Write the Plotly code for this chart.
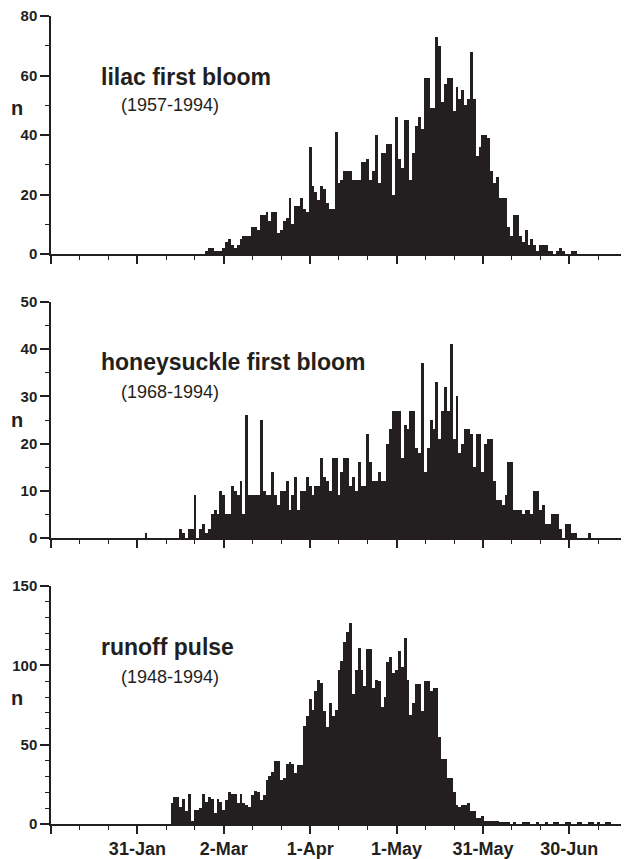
import plotly.graph_objects as go
from plotly.subplots import make_subplots

# ---------------- data (day-of-year counts) ----------------
N_DAYS = 199
days = list(range(1, N_DAYS + 1))

lilac_start = 55
lilac_vals = [1, 2, 2, 1, 1, 1, 2, 4, 5, 3, 2, 3, 5, 6, 6, 6, 9, 9, 8, 13,
              13, 14, 11, 14, 14, 7, 8, 11, 12, 19, 10, 16, 16, 19, 15, 14, 36, 23, 21, 18,
              23, 22, 17, 15, 15, 41, 24, 25, 28, 28, 28, 25, 25, 25, 31, 31, 32, 25, 28, 40,
              24, 34, 34, 37, 37, 20, 46, 32, 29, 45, 45, 25, 34, 43, 46, 42, 59, 59, 49, 49,
              73, 70, 51, 57, 59, 59, 48, 56, 52, 55, 50, 52, 68, 52, 33, 36, 40, 40, 39, 28,
              24, 26, 19, 19, 19, 9, 6, 13, 13, 6, 4, 8, 3, 5, 3, 1, 3, 3, 3, 1,
              1, 0, 1, 2, 1, 0, 0, 1, 1]

honey_start = 34
honey_vals = [1, 0, 0, 0, 0, 0, 0, 0, 0, 0, 0, 0, 2, 1, 0, 2, 2, 9, 0, 2,
              3, 1, 2, 5, 6, 5, 10, 9, 5, 5, 11, 10, 9, 12, 5, 26, 9, 9, 9, 9,
              25, 10, 9, 9, 14, 9, 7, 10, 10, 12, 6, 9, 13, 6, 10, 10, 13, 11, 9, 11,
              11, 17, 13, 12, 10, 17, 17, 9, 14, 17, 17, 11, 13, 10, 16, 11, 11, 22, 16, 12,
              12, 14, 12, 12, 20, 23, 27, 27, 27, 17, 24, 23, 27, 27, 19, 18, 37, 14, 19, 25,
              23, 33, 21, 27, 32, 27, 41, 21, 30, 18, 20, 23, 23, 22, 15, 22, 22, 14, 20, 21,
              21, 12, 8, 8, 7, 9, 16, 16, 6, 6, 6, 5, 6, 6, 5, 10, 10, 6, 7, 3,
              3, 5, 5, 5, 2, 0, 3, 3, 1, 1, 0, 0, 0, 0, 1]

runoff_start = 43
runoff_vals = [13, 17, 17, 11, 16, 8, 19, 2, 9, 9, 10, 19, 14, 17, 16, 7, 16, 14, 9, 15,
               20, 19, 19, 13, 19, 13, 12, 11, 18, 21, 20, 15, 18, 28, 30, 33, 40, 40, 28, 29,
               38, 39, 38, 32, 37, 37, 62, 68, 79, 72, 84, 91, 89, 71, 61, 76, 68, 72, 97, 103,
               115, 121, 127, 82, 97, 111, 97, 87, 110, 110, 86, 91, 90, 74, 80, 102, 105, 95, 97, 109,
               99, 117, 91, 69, 76, 88, 88, 71, 90, 90, 84, 86, 86, 55, 41, 41, 29, 29, 20, 12,
               11, 12, 12, 13, 8, 8, 4, 4, 5, 2, 2, 2, 2, 2, 1, 1, 1, 1, 0, 1,
               0, 0, 1, 1, 1, 0, 0, 1, 0, 0, 1, 0, 0, 1, 1, 0, 0, 1, 1, 0,
               0, 1, 1, 0, 0, 1, 1, 0, 1, 0, 0, 1, 1]

major_days = [1, 31, 61, 91, 121, 151, 181]
major_labels = ["", "31-Jan", "2-Mar", "1-Apr", "1-May", "31-May", "30-Jun"]
minor_days = [11, 21, 41, 51, 71, 81, 101, 111, 131, 141, 161, 171, 191]

titles = ["lilac first bloom", "honeysuckle first bloom", "runoff pulse"]
periods = ["(1957-1994)", "(1968-1994)", "(1948-1994)"]


def full_series(start, vals):
    out = [0] * N_DAYS
    for i, v in enumerate(vals):
        d = start + i
        if 1 <= d <= N_DAYS:
            out[d - 1] = v
    return out


series = [full_series(lilac_start, lilac_vals),
          full_series(honey_start, honey_vals),
          full_series(runoff_start, runoff_vals)]

y_ranges = [[0, 80], [0, 50], [0, 150]]
y_major = [[0, 20, 40, 60, 80], [0, 10, 20, 30, 40, 50], [0, 50, 100, 150]]
y_minor = [[10, 30, 50, 70], [5, 15, 25, 35, 45],
           [10, 20, 30, 40, 60, 70, 80, 90, 110, 120, 130, 140]]

# ---------------- figure ----------------
INK = "#231f20"
FONT = "Liberation Sans, Arial, Helvetica, sans-serif"

fig = make_subplots(rows=3, cols=1)
domains = [[0.7054, 1.0], [0.354, 0.646], [0.0, 0.2946]]

for i in range(3):
    fig.add_trace(go.Bar(x=days, y=series[i], width=1.0,
                         marker=dict(color=INK, line=dict(width=0)),
                         hoverinfo="x+y"), row=i + 1, col=1)

for i in range(3):
    fig.update_xaxes(row=i + 1, col=1, automargin=False, ticklabeloverflow="allow",
                     range=[1, 199.3], showgrid=False, zeroline=False,
                     showline=True, linecolor=INK, linewidth=1.5,
                     ticks="outside", tickcolor=INK, ticklen=8, tickwidth=1.5,
                     tickmode="array", tickvals=major_days, ticktext=major_labels,
                     showticklabels=(i == 2),
                     tickfont=dict(family=FONT, size=18, color=INK, weight="bold"),
                     minor=dict(tickmode="array", tickvals=minor_days, ticks="outside",
                                ticklen=4, tickwidth=1.2, tickcolor=INK, showgrid=False))
    fig.update_yaxes(row=i + 1, col=1, automargin=False, ticklabeloverflow="allow",
                     range=y_ranges[i], domain=domains[i], showgrid=False, zeroline=False,
                     showline=True, linecolor=INK, linewidth=1.5,
                     ticks="outside", tickcolor=INK, ticklen=9, tickwidth=1.5,
                     tickmode="array", tickvals=y_major[i],
                     tickfont=dict(family=FONT, size=15, color=INK, weight="bold"),
                     minor=dict(tickmode="array", tickvals=y_minor[i], ticks="outside",
                                ticklen=4, tickwidth=1.2, tickcolor=INK, showgrid=False))


def px_to_paper_x(px):
    return (px - 51) / 570.7


def px_to_paper_y(py):
    return (824 - py) / 808


title_y = [76.7, 361.7, 646.7]
period_y = [105.0, 391.6, 676.6]
n_y = [107.5, 420.5, 698.0]

annotations = []
for i in range(3):
    annotations.append(dict(text=titles[i], xref="paper", yref="paper",
                            x=px_to_paper_x(99), y=px_to_paper_y(title_y[i]),
                            xanchor="left", yanchor="middle", showarrow=False,
                            font=dict(family=FONT, size=23, color=INK, weight="bold")))
    annotations.append(dict(text=periods[i], xref="paper", yref="paper",
                            x=px_to_paper_x(119), y=px_to_paper_y(period_y[i]),
                            xanchor="left", yanchor="middle", showarrow=False,
                            font=dict(family=FONT, size=18, color=INK)))
    annotations.append(dict(text="n", xref="paper", yref="paper",
                            x=px_to_paper_x(17.5), y=px_to_paper_y(n_y[i]),
                            xanchor="center", yanchor="middle", showarrow=False,
                            font=dict(family=FONT, size=20, color=INK, weight="bold")))

# The page body adds an 8 px offset; the figure is sized so the plot area lands
# at x 51..622, y 16..824 of the 629x859 window.
fig.update_layout(width=621, height=851,
                  margin=dict(l=43, r=7, t=8, b=35, autoexpand=False),
                  paper_bgcolor="white", plot_bgcolor="white",
                  showlegend=False, bargap=0,
                  annotations=annotations)

fig.write_html("out.html")
